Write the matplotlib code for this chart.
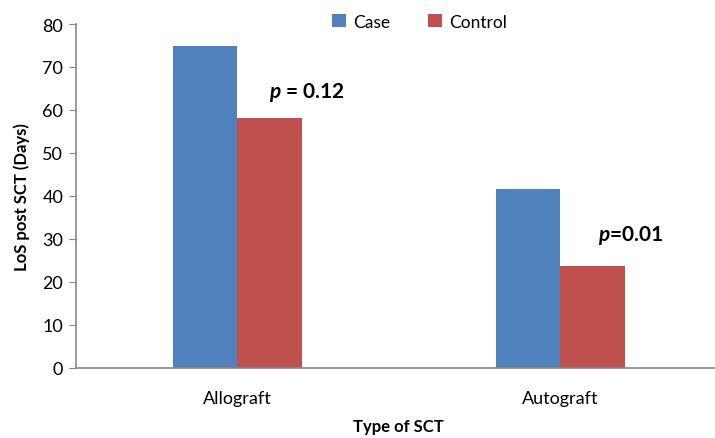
import numpy as np
import matplotlib
matplotlib.use("Agg")
import matplotlib.pyplot as plt

plt.rcParams['font.family'] = ['Lato', 'DejaVu Sans']
plt.rcParams['mathtext.fontset'] = 'custom'
plt.rcParams['mathtext.it'] = 'Lato:italic:bold'
plt.rcParams['mathtext.rm'] = 'Lato:bold'

categories = ["Allograft", "Autograft"]
case_vals = [75, 41.6]
control_vals = [58.2, 23.6]
p_labels = [r"$p$ = 0.12", r"$p$=0.01"]

BLUE = "#4F81BD"
RED = "#C0504D"
GRAY = "#888888"

fig = plt.figure(figsize=(7.15, 4.39), dpi=100)
ax = fig.add_axes([0.106, 0.16, 0.9035, 0.783])

x = np.arange(len(categories))
w = 0.2
ax.bar(x - w / 2, case_vals, w, color=BLUE, label="Case")
ax.bar(x + w / 2, control_vals, w, color=RED, label="Control")

ax.set_xlim(-0.5, 1.5)
ax.set_ylim(0, 80)
ax.set_yticks(np.arange(0, 81, 10))
ax.set_xticks(x)
ax.set_xticklabels(categories, fontsize=13)
ax.tick_params(axis='x', length=0, pad=16)
ax.tick_params(axis='y', labelsize=13, color=GRAY, length=5, pad=4)

for s in ["top", "right"]:
    ax.spines[s].set_visible(False)
for s in ["left", "bottom"]:
    ax.spines[s].set_color(GRAY)
    ax.spines[s].set_linewidth(1.2)

ax.set_ylabel("LoS post SCT (Days)", fontsize=12, fontweight="bold", labelpad=9)
ax.set_xlabel("Type of SCT", fontsize=12, fontweight="bold", labelpad=9)

# p-value labels, placed beside the control bars
ax.text(x[0] + 0.217, 64.4, p_labels[0], fontsize=15, fontweight="bold",
        ha="center", va="center")
ax.text(x[1] + 0.218, 30.9, p_labels[1], fontsize=15, fontweight="bold",
        ha="center", va="center")

ax.legend(loc="upper center", bbox_to_anchor=(0.532, 1.075), ncol=2, frameon=False,
          fontsize=12.5, handlelength=0.8, handleheight=0.8, columnspacing=2.2,
          handletextpad=0.4)

fig.savefig("out.png", dpi=100)
